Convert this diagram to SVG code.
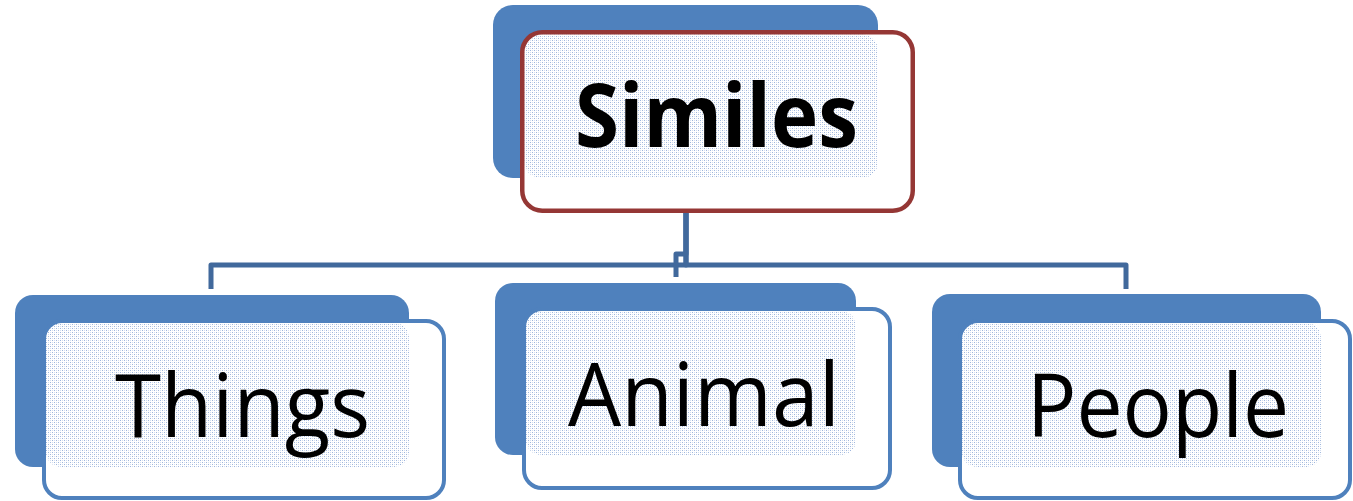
<svg xmlns="http://www.w3.org/2000/svg" width="1353" height="501" viewBox="0 0 1353 501">
<defs>
<pattern id="dots" width="4" height="4" patternUnits="userSpaceOnUse">
<rect width="4" height="4" fill="#ffffff"/>
<rect x="0" y="0" width="1" height="1" fill="#9fb6dc"/>
<rect x="2" y="2" width="1" height="1" fill="#9fb6dc"/>
<rect x="2" y="0" width="1" height="1" fill="#d3def0"/>
<rect x="0" y="2" width="1" height="1" fill="#d3def0"/>
</pattern>
<style>
.back{fill:#4f81bd;}
.front{fill:#ffffff;}
.dot{fill:url(#dots);}
.edge{fill:none;stroke:#4f81bd;stroke-width:4;}
.edge-top{fill:none;stroke:#953735;stroke-width:4.5;}
.lbl{font-family:"Open Sans","Noto Sans","Liberation Sans",sans-serif;font-size:88px;fill:#000000;}
.lbl-b{font-weight:bold;}
.conn{fill:none;stroke:#41699c;stroke-width:5;stroke-linejoin:round;}
</style>
</defs>
<g id="connectors">
<path class="conn" d="M686,213 V265 H211 V289"/>
<path class="conn" d="M686,213 V265 H1126 V289"/>
<path class="conn" d="M686,213 V254 H676 V277"/>
</g>
<g id="node-similes">
<rect class="back" x="493" y="5" width="385" height="173" rx="20"/>
<rect class="front" x="522.25" y="32.25" width="390.5" height="178.5" rx="20"/>
<rect class="dot" x="524.5" y="34.5" width="353.5" height="143.5" rx="16"/>
<rect class="edge-top" x="522.25" y="32.25" width="390.5" height="178.5" rx="20"/>
<text class="lbl lbl-b" x="575" y="147" textLength="283" lengthAdjust="spacingAndGlyphs" font-size="90">Similes</text>
</g>
<g id="node-things">
<rect class="back" x="15" y="295" width="394" height="172" rx="18"/>
<rect class="front" x="44" y="321" width="400" height="177" rx="18"/>
<rect class="dot" x="46" y="323" width="363" height="144" rx="15"/>
<rect class="edge" x="44" y="321" width="400" height="177" rx="18"/>
<text class="lbl" x="115" y="437" textLength="255" lengthAdjust="spacingAndGlyphs">Things</text>
</g>
<g id="node-animal">
<rect class="back" x="495" y="283" width="361" height="172" rx="18"/>
<rect class="front" x="524" y="309" width="366" height="179" rx="18"/>
<rect class="dot" x="526" y="311" width="330" height="144" rx="15"/>
<rect class="edge" x="524" y="309" width="366" height="179" rx="18"/>
<text class="lbl" x="568" y="426" textLength="272" lengthAdjust="spacingAndGlyphs">Animal</text>
</g>
<g id="node-people">
<rect class="back" x="932" y="294" width="389" height="173" rx="18"/>
<rect class="front" x="960" y="321" width="390" height="177" rx="18"/>
<rect class="dot" x="962" y="323" width="359" height="144" rx="15"/>
<rect class="edge" x="960" y="321" width="390" height="177" rx="18"/>
<text class="lbl" x="1027" y="437" textLength="262" lengthAdjust="spacingAndGlyphs">People</text>
</g>
</svg>
